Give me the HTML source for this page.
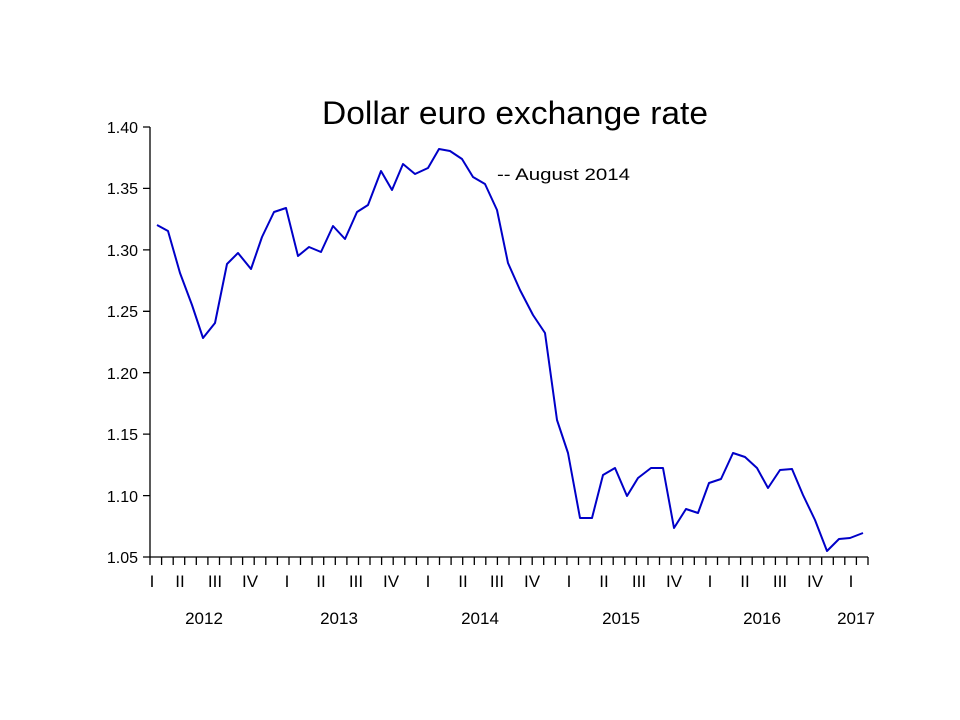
<!DOCTYPE html>
<html><head><meta charset="utf-8"><style>
body{margin:0;background:#fff;}
svg{display:block;font-family:"Liberation Sans",sans-serif;}
</style></head><body>
<svg width="960" height="720" viewBox="0 0 960 720">
<rect width="960" height="720" fill="#fff"/>
<text x="515" y="124" font-size="32" text-anchor="middle" fill="#000" textLength="386" lengthAdjust="spacingAndGlyphs">Dollar euro exchange rate</text>
<g stroke="#000" stroke-width="1.3" fill="none">
<line x1="150" y1="127" x2="150" y2="557"/>
<line x1="150" y1="557" x2="868" y2="557"/>
<path d="M143 127H150M143 188.4H150M143 249.9H150M143 311.3H150M143 372.7H150M143 434.1H150M143 495.6H150M143 557H150"/>
<path d="M150 557V565M161.6 557V565M173.2 557V565M184.7 557V565M196.3 557V565M207.9 557V565M219.5 557V565M231.1 557V565M242.6 557V565M254.2 557V565M265.8 557V565M277.4 557V565M289 557V565M300.5 557V565M312.1 557V565M323.7 557V565M335.3 557V565M346.9 557V565M358.5 557V565M370 557V565M381.6 557V565M393.2 557V565M404.8 557V565M416.4 557V565M427.9 557V565M439.5 557V565M451.1 557V565M462.7 557V565M474.3 557V565M485.8 557V565M497.4 557V565M509 557V565M520.6 557V565M532.2 557V565M543.7 557V565M555.3 557V565M566.9 557V565M578.5 557V565M590.1 557V565M601.6 557V565M613.2 557V565M624.8 557V565M636.4 557V565M648 557V565M659.5 557V565M671.1 557V565M682.7 557V565M694.3 557V565M705.9 557V565M717.5 557V565M729 557V565M740.6 557V565M752.2 557V565M763.8 557V565M775.4 557V565M786.9 557V565M798.5 557V565M810.1 557V565M821.7 557V565M833.3 557V565M844.8 557V565M856.4 557V565M868 557V565"/>
</g>
<g font-size="16" text-anchor="end" fill="#000">
<text x="138" y="133">1.40</text><text x="138" y="194">1.35</text><text x="138" y="256">1.30</text>
<text x="138" y="317">1.25</text><text x="138" y="379">1.20</text><text x="138" y="440">1.15</text>
<text x="138" y="502">1.10</text><text x="138" y="563">1.05</text>
</g>
<g font-size="17" text-anchor="middle" fill="#000">
<text x="152" y="587">I</text><text x="180" y="587">II</text><text x="215" y="587">III</text><text x="250" y="587">IV</text>
<text x="287" y="587">I</text><text x="321" y="587">II</text><text x="356" y="587">III</text><text x="391" y="587">IV</text>
<text x="428" y="587">I</text><text x="463" y="587">II</text><text x="497" y="587">III</text><text x="532" y="587">IV</text>
<text x="569" y="587">I</text><text x="604" y="587">II</text><text x="639" y="587">III</text><text x="674" y="587">IV</text>
<text x="710" y="587">I</text><text x="745" y="587">II</text><text x="780" y="587">III</text><text x="815" y="587">IV</text>
<text x="851" y="587">I</text>
</g>
<g font-size="17" text-anchor="middle" fill="#000">
<text x="204" y="624">2012</text><text x="339" y="624">2013</text><text x="480" y="624">2014</text>
<text x="621" y="624">2015</text><text x="762" y="624">2016</text><text x="856" y="624">2017</text>
</g>
<text x="497" y="180" font-size="17" fill="#000" textLength="133" lengthAdjust="spacingAndGlyphs">-- August 2014</text>
<polyline fill="none" stroke="#0000c8" stroke-width="2" stroke-linejoin="round" points="157,225 168,231 180,273 192,305 203,338 215,323 227,264 238,253 251,269 262,237 274,212 286,208 298,256 309,247 321,252 333,226 345,239 357,212 368,205 381,171 392,190 403,164 415,174 428,168 439,149 450,151 462,159 473,177 485,184 497,210 508,263 520,290 533,315 545,333 557,420 568,453 580,518 592,518 603,475 615,468 627,496 638,478 651,468 663,468 674,528 686,509 698,513 709,483 721,479 733,453 745,457 757,468 768,488 780,470 792,469 803,495 815,520 827,551 839,539 850,538 863,533"/>
</svg>
</body></html>
